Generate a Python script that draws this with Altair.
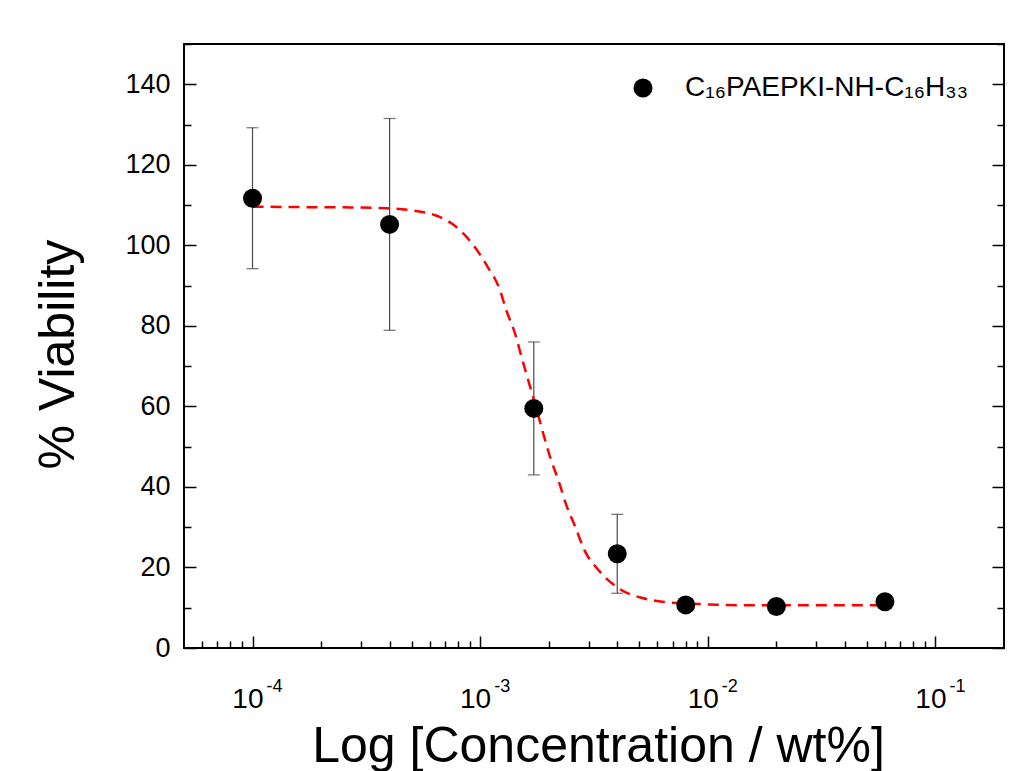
import altair as alt
import pandas as pd

# ---- data ----
conc = [1e-4, 4e-4, 1.72e-3, 4e-3, 8e-3, 2e-2, 6e-2]
viability = [111.7, 105.2, 59.5, 23.4, 10.7, 10.3, 11.5]
err = [17.5, 26.3, 16.5, 9.8, 0.0, 0.0, 0.0]
series_name = "C\u2081\u2086PAEPKI-NH-C\u2081\u2086H\u2083\u2083"

# dashed fitted curve
fit_conc = [1.0e-4, 1.6e-4, 2.7e-4, 3.9e-4, 5.15e-4, 6.4e-4, 7.55e-4, 9.35e-4,
            1.08e-3, 1.22e-3, 1.3e-3, 1.415e-3, 1.52e-3, 1.61e-3, 1.71e-3,
            1.92e-3, 2.04e-3, 2.21e-3, 2.39e-3, 2.62e-3, 2.87e-3, 3.34e-3,
            4.17e-3, 5.16e-3, 6.5e-3, 9.2e-3, 1.52e-2, 2.5e-2, 6.0e-2]
fit_viab = [109.6, 109.5, 109.4, 109.2, 108.6, 107.4, 105.3, 100.0,
            94.6, 89.0, 84.0, 78.5, 72.3, 67.3, 62.3,
            52.0, 47.0, 41.5, 35.5, 30.0, 24.3, 19.1,
            14.4, 12.4, 11.4, 10.9, 10.6, 10.6, 10.6]

# tick positions and labels
x_major = [1e-4, 1e-3, 1e-2, 1e-1]
x_base = ["10", "10", "10", "10"]
x_exp = ["-4", "-3", "-2", "-1"]
x_minor = [6e-5, 7e-5, 8e-5, 9e-5,
           2e-4, 3e-4, 4e-4, 5e-4, 6e-4, 7e-4, 8e-4, 9e-4,
           2e-3, 3e-3, 4e-3, 5e-3, 6e-3, 7e-3, 8e-3, 9e-3,
           2e-2, 3e-2, 4e-2, 5e-2, 6e-2, 7e-2, 8e-2, 9e-2]
y_major = [0, 20, 40, 60, 80, 100, 120, 140]
y_minor = [10, 30, 50, 70, 90, 110, 130, 150]

FONT = "Liberation Sans"

pts = pd.DataFrame({"conc": conc, "viability": viability, "err": err,
                    "series": [series_name] * len(conc)})
fit = pd.DataFrame({"conc": fit_conc, "viability": fit_viab})
ticks = pd.DataFrame({"v": x_major, "base": x_base, "exp": x_exp})

xs = alt.Scale(type="log", domain=[5e-5, 0.2], nice=False)
ys = alt.Scale(domain=[0, 150], nice=False, zero=False)

common_axis = dict(domain=False, grid=False, tickColor="black", tickWidth=1.5)

def ax(orient, values, size, labels=False, **kw):
    return alt.Axis(orient=orient, values=values, tickSize=size, offset=-size,
                    labels=labels, **common_axis, **kw)

# error bars
bars = alt.Chart(pts).transform_calculate(
    lo="datum.viability - datum.err", hi="datum.viability + datum.err"
).mark_rule(color="#4a4a4a", strokeWidth=1.2).encode(
    x=alt.X("conc:Q", scale=xs, axis=None),
    y=alt.Y("lo:Q", scale=ys, axis=ax("right", y_major, 12, title=None)),
    y2="hi:Q",
)

caps = alt.Chart(pts).transform_calculate(
    lo="datum.viability - datum.err", hi="datum.viability + datum.err"
).transform_fold(["lo", "hi"], as_=["end", "val"]).mark_tick(
    orient="horizontal", size=12, thickness=1.2, color="#333333"
).encode(
    x=alt.X("conc:Q", scale=xs, axis=None),
    y=alt.Y("val:Q", scale=ys, axis=ax("right", y_minor, 7, title=None)),
)

curve = alt.Chart(fit).mark_line(
    color="#ff0000", strokeDash=[11, 7], strokeWidth=2.5, interpolate="monotone"
).encode(
    x=alt.X("conc:Q", scale=xs, axis=ax("bottom", x_minor, 7, title=None)),
    y=alt.Y("viability:Q", scale=ys, axis=ax("left", y_minor, 7, title=None)),
)

points = alt.Chart(pts).mark_circle(size=360, opacity=1).encode(
    x=alt.X("conc:Q", scale=xs,
            axis=ax("bottom", x_major, 12, title="Log [Concentration / wt%]",
                    titleFont=FONT, titleFontSize=50, titleFontWeight="normal",
                    titleColor="black", titleX=414, titleY=125,
                    titleAlign="center", titleBaseline="alphabetic")),
    y=alt.Y("viability:Q", scale=ys,
            axis=ax("left", y_major, 12, labels=True, labelPadding=14,
                    labelFont=FONT, labelFontSize=27, labelColor="black",
                    title="% Viability", titleFont=FONT, titleFontSize=50,
                    titleFontWeight="normal", titleColor="black",
                    titleAngle=270, titleX=-123, titleY=310,
                    titleAlign="center", titleBaseline="alphabetic")),
    color=alt.Color("series:N", scale=alt.Scale(range=["#000000"]),
                    legend=alt.Legend(orient="none", legendX=445, legendY=30,
                                      title=None, padding=0, labelLimit=0,
                                      labelFont=FONT, labelFontSize=28,
                                      labelColor="black", labelOffset=28,
                                      symbolType="circle", symbolSize=360,
                                      symbolFillColor="black",
                                      symbolStrokeWidth=0)),
)

base_txt = alt.Chart(ticks).mark_text(
    align="right", baseline="alphabetic", dx=11, dy=60, fontSize=28,
    font=FONT, color="black"
).encode(x=alt.X("v:Q", scale=xs, axis=None),
         y=alt.YDatum(0, scale=ys, axis=None), text="base:N")

exp_txt = alt.Chart(ticks).mark_text(
    align="left", baseline="alphabetic", dx=14, dy=44, fontSize=18,
    font=FONT, color="black"
).encode(x=alt.X("v:Q", scale=xs, axis=None),
         y=alt.YDatum(0, scale=ys, axis=None), text="exp:N")

chart = alt.layer(bars, caps, curve, points, base_txt, exp_txt).resolve_axis(
    x="independent", y="independent"
).properties(
    width=820, height=604,
    background="white",
    autosize=alt.AutoSizeParams(type="none"),
    padding={"left": 176, "top": 36, "right": 10, "bottom": 123},
).configure_view(stroke="black", strokeWidth=2)

chart.save("out.html", embed_options={"renderer": "svg", "actions": False})
